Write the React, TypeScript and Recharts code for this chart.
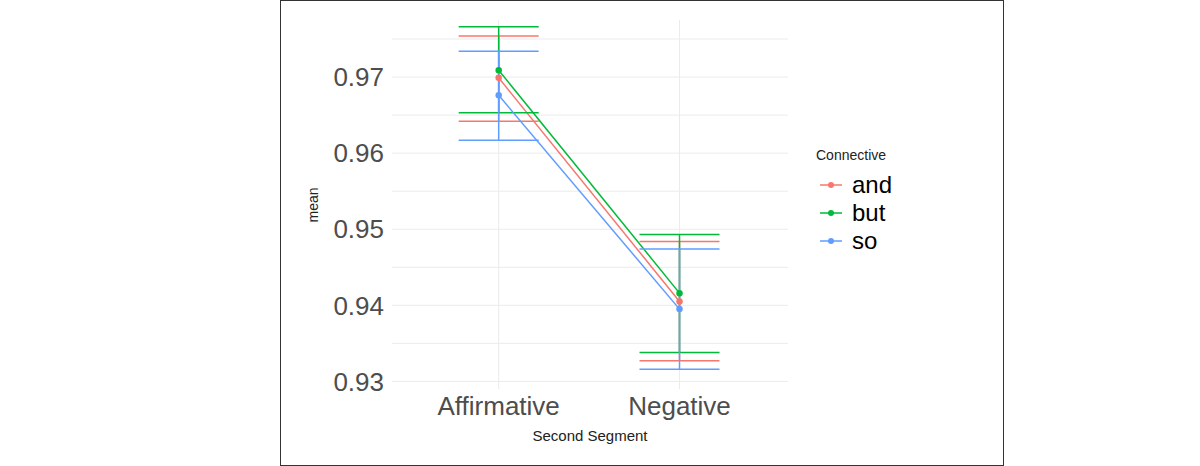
import React from 'react';
import { LineChart, Line, XAxis, YAxis, CartesianGrid, ErrorBar, Customized } from 'recharts';

const segments = ['Affirmative', 'Negative'];
const connectives = ['and', 'but', 'so'];
const colors = ['#F8766D', '#00BA38', '#619CFF'];
const means = [
  [0.9699, 0.9405],
  [0.9709, 0.9416],
  [0.9676, 0.9395],
];
const lows = [
  [0.9642, 0.9327],
  [0.9653, 0.9338],
  [0.9617, 0.9316],
];
const highs = [
  [0.9754, 0.9484],
  [0.9766, 0.9493],
  [0.9734, 0.9474],
];
const yTicks = [0.93, 0.94, 0.95, 0.96, 0.97];
const yGrid = [0.93, 0.935, 0.94, 0.945, 0.95, 0.955, 0.96, 0.965, 0.97, 0.975];

const series = connectives.map((name, i) =>
  segments.map((seg, j) => ({
    x: j + 1,
    mean: means[i][j],
    err: [means[i][j] - lows[i][j], highs[i][j] - means[i][j]],
  }))
);

const Legend = () => (
  <g>
    <text x={816} y={160} fontSize={14} fill="#222">Connective</text>
    {connectives.map((c, i) => (
      <g key={c}>
        <line x1={820} x2={842} y1={185 + i * 28} y2={185 + i * 28} stroke={colors[i]} strokeWidth={1.5} />
        <circle cx={831} cy={185 + i * 28} r={3} fill={colors[i]} />
        <text x={852} y={193 + i * 28} fontSize={24} fill="#000">{c}</text>
      </g>
    ))}
    <text x={590} y={441} fontSize={15} textAnchor="middle" fill="#222">Second Segment</text>
    <text x={318} y={205} fontSize={14} textAnchor="middle" fill="#222" transform="rotate(-90 318 205)">mean</text>
  </g>
);

export default function App() {
  return (
    <div style={{ position: 'absolute', left: 0, top: 0, width: 1200, height: 466, fontFamily: 'Arial, Liberation Sans, sans-serif' }}>
      <div style={{ position: 'absolute', left: 280, top: 0, width: 722, height: 464, border: '1px solid #333' }} />
      <LineChart width={1200} height={466} margin={{ top: 20, right: 412, bottom: 47, left: 300 }}>
        <CartesianGrid stroke="#ebebeb" horizontalValues={yGrid} verticalValues={[1, 2]} />
        <XAxis
          type="number"
          dataKey="x"
          domain={[0.41, 2.6]}
          ticks={[1, 2]}
          tickFormatter={(v) => segments[v - 1]}
          axisLine={false}
          tickLine={false}
          tick={{ fontSize: 26, fill: '#4d4d4d' }}
          height={30}
          allowDuplicatedCategory={false}
        />
        <YAxis
          type="number"
          domain={[0.929, 0.9775]}
          ticks={yTicks}
          tickFormatter={(v) => v.toFixed(2)}
          width={92}
          axisLine={false}
          tickLine={false}
          tick={{ fontSize: 26, fill: '#4d4d4d' }}
          allowDataOverflow
        />
        {series.map((d, i) => (
          <Line
            key={connectives[i]}
            data={d}
            dataKey="mean"
            stroke={colors[i]}
            strokeWidth={1.5}
            dot={{ r: 2.5, fill: colors[i], stroke: colors[i] }}
            isAnimationActive={false}
          >
            <ErrorBar dataKey="err" width={40} stroke={colors[i]} strokeWidth={1.5} direction="y" />
          </Line>
        ))}
        <Customized component={Legend} />
      </LineChart>
    </div>
  );
}
